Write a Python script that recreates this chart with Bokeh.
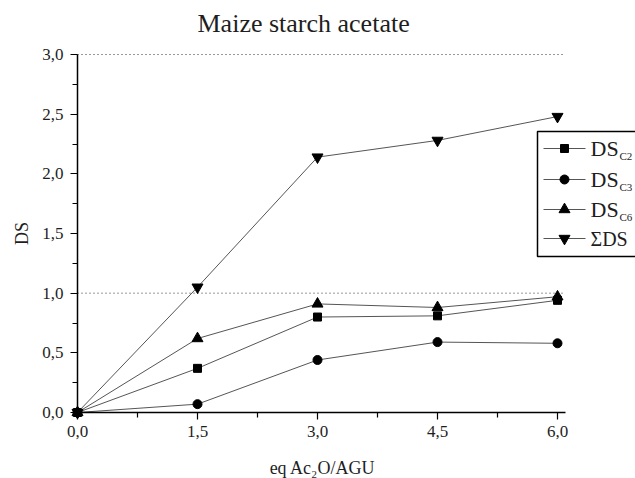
import math

from bokeh.plotting import figure
from bokeh.models import Range1d, FixedTicker, CustomJSTickFormatter, ColumnDataSource
from bokeh.embed import file_html
from bokeh.resources import INLINE
from bokeh.core.properties import value

# Degree of substitution vs. equivalents of acetic anhydride per AGU
eq = [0.0, 1.5, 3.0, 4.5, 6.0]
ds_c2 = [0.0, 0.37, 0.80, 0.81, 0.94]
ds_c3 = [0.0, 0.07, 0.44, 0.59, 0.58]
ds_c6 = [0.0, 0.62, 0.91, 0.88, 0.97]
ds_sum = [0.0, 1.05, 2.14, 2.28, 2.48]

series_main = ["DS", "DS", "DS", "ΣDS"]
series_sub = ["C2", "C3", "C6", ""]
series_values = [ds_c2, ds_c3, ds_c6, ds_sum]

x_ticks = [0.0, 1.5, 3.0, 4.5, 6.0]
y_ticks = [0.0, 0.5, 1.0, 1.5, 2.0, 2.5, 3.0]
grid_levels = [1.0, 3.0]

SERIF = "Liberation Serif"
INK = "#1e1e1e"

# The frame covers the whole canvas; axes sit at fixed data locations.
# Pixel anchors: x=0 at column 77, x=6 at 557; y=0 at row 412, y=3 at row 54.
W, H = 635, 478
PX_X0, PX_PER_X = 77.0, 80.0
PX_Y0, PX_PER_Y = 412.0, (412.0 - 54.0) / 3.0
X0, X1 = -PX_X0 / PX_PER_X, (W - PX_X0) / PX_PER_X
Y0, Y1 = -(H - PX_Y0) / PX_PER_Y, PX_Y0 / PX_PER_Y


def dx(px):
    """canvas pixel column -> data x"""
    return (px - PX_X0) / PX_PER_X


def dy(py):
    """canvas pixel row -> data y"""
    return (PX_Y0 - py) / PX_PER_Y


p = figure(width=W, height=H, output_backend="svg", toolbar_location=None,
           x_range=Range1d(X0, X1), y_range=Range1d(Y0, Y1),
           min_border_left=0, min_border_right=0,
           min_border_top=0, min_border_bottom=0)
p.outline_line_color = None
p.background_fill_color = "white"
p.border_fill_color = "white"

# axes
fmt = CustomJSTickFormatter(code="return tick.toFixed(1).replace('.', ',');")
x_minor = [(a + b) / 2 for a, b in zip(x_ticks[:-1], x_ticks[1:])]
y_minor = [(a + b) / 2 for a, b in zip(y_ticks[:-1], y_ticks[1:])]

xa = p.xaxis[0]
xa.ticker = FixedTicker(ticks=x_ticks, minor_ticks=x_minor)
xa.bounds = (0.0, 6.1)
xa.fixed_location = 0.0
ya = p.yaxis[0]
ya.ticker = FixedTicker(ticks=y_ticks, minor_ticks=y_minor)
ya.bounds = (0.0, 3.0)
ya.fixed_location = 0.0

for ax in (xa, ya):
    ax.formatter = fmt
    ax.axis_line_color = "black"
    ax.axis_line_width = 1.5
    ax.major_tick_line_color = "black"
    ax.minor_tick_line_color = "black"
    ax.major_tick_line_width = 1.2
    ax.minor_tick_line_width = 1.2
    ax.major_tick_in = 0
    ax.major_tick_out = 7
    ax.minor_tick_in = 0
    ax.minor_tick_out = 5
    ax.major_label_text_font = SERIF
    ax.major_label_text_font_size = "17px"
    ax.major_label_text_color = INK
xa.major_label_standoff = 6
ya.major_label_standoff = 7

p.xgrid.visible = False
p.ygrid.visible = False

# chart title and axis titles
p.text(x=[dx(197)], y=[dy(23)], text=["Maize starch acetate"], text_font=value(SERIF),
       text_font_size="26px", text_baseline="middle", text_align="left", text_color=INK)
p.text(x=[dx(322)], y=[dy(467)], text=["eq Ac₂O/AGU"], text_font=value(SERIF),
       text_font_size="18px", text_baseline="middle", text_align="center", text_color=INK)
p.text(x=[dx(21)], y=[dy(233)], text=["DS"], angle=math.pi / 2, text_font=value(SERIF),
       text_font_size="18px", text_baseline="middle", text_align="center", text_color=INK)

# dotted reference lines
p.segment(x0=[0.0] * len(grid_levels), y0=grid_levels,
          x1=[6.1] * len(grid_levels), y1=grid_levels,
          line_color="#333333", line_width=1, line_dash="1 3")

# data series
markers = ["square", "circle", "triangle", "inverted_triangle"]
sizes = [8, 9, 11, 11]
for vals, mk, sz in zip(series_values, markers, sizes):
    p.line(eq, vals, line_color="#555555", line_width=1)
    p.scatter(eq, vals, marker=mk, size=sz, fill_color="black", line_color="black")

# legend box
p.quad(left=[dx(537)], right=[dx(700)], top=[dy(131)], bottom=[dy(256)],
       fill_color="white", line_color="black", line_width=1.5)
rows = [148, 179, 209, 238]
for i, (mk, sz) in enumerate(zip(markers, sizes)):
    ry = dy(rows[i])
    p.line([dx(543), dx(585)], [ry, ry], line_color="#555555", line_width=1)
    p.scatter([dx(564)], [ry], marker=mk, size=sz, fill_color="black", line_color="black")

main_src = ColumnDataSource(dict(x=[dx(590)] * 4, y=[dy(r) for r in rows], t=series_main,
                                 s=["22px", "22px", "22px", "20px"]))
p.text(x="x", y="y", text="t", source=main_src, text_font=value(SERIF),
       text_font_size="s", text_baseline="middle", text_align="left", text_color=INK)
sub_src = ColumnDataSource(dict(x=[dx(619)] * 3, y=[dy(r + 7) for r in rows[:3]], t=series_sub[:3]))
p.text(x="x", y="y", text="t", source=sub_src, text_font=value(SERIF),
       text_font_size="11px", text_baseline="middle", text_align="left", text_color=INK)

open("out.html", "w").write(file_html(p, INLINE))
